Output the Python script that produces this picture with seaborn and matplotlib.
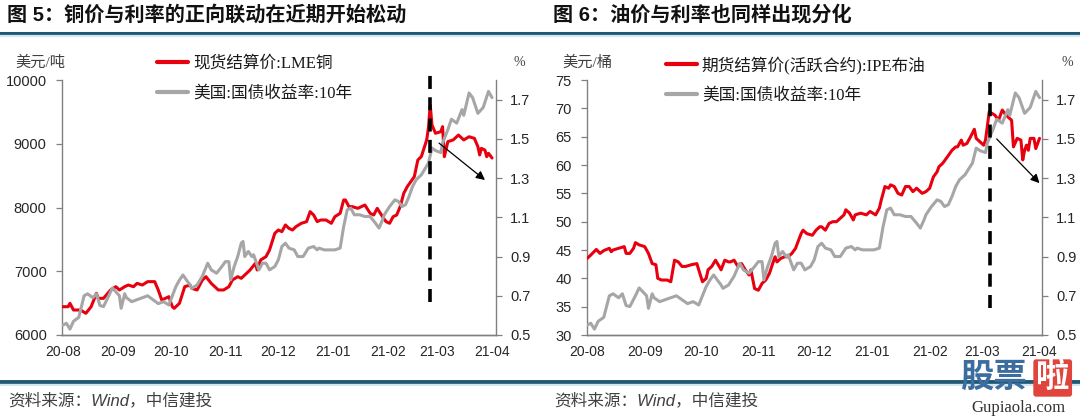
import numpy as np
import pandas as pd
import matplotlib
matplotlib.use("Agg")
import matplotlib.pyplot as plt
import matplotlib.dates as mdates
from matplotlib.lines import Line2D
import seaborn as sns

# ---------------- data ----------------
cu_dates = ['2020-08-01','2020-08-04','2020-08-05','2020-08-07','2020-08-11','2020-08-14','2020-08-17','2020-08-20','2020-08-21','2020-08-24','2020-08-28','2020-08-31',
            '2020-09-02','2020-09-05','2020-09-07','2020-09-10','2020-09-12','2020-09-15','2020-09-18','2020-09-22','2020-09-24','2020-09-26','2020-09-30',
            '2020-10-02','2020-10-03','2020-10-06','2020-10-09','2020-10-12','2020-10-13','2020-10-16','2020-10-19','2020-10-21','2020-10-24','2020-10-28','2020-10-31',
            '2020-11-03','2020-11-05','2020-11-08','2020-11-10','2020-11-13','2020-11-15','2020-11-18','2020-11-19','2020-11-21','2020-11-24','2020-11-26','2020-11-29',
            '2020-12-01','2020-12-03','2020-12-05','2020-12-07','2020-12-09','2020-12-11','2020-12-14','2020-12-17','2020-12-19','2020-12-21','2020-12-23','2020-12-25','2020-12-28','2020-12-31',
            '2021-01-02','2021-01-05','2021-01-07','2021-01-08','2021-01-10','2021-01-12','2021-01-15','2021-01-19','2021-01-22','2021-01-24','2021-01-26','2021-01-29','2021-01-31',
            '2021-02-02','2021-02-04','2021-02-06','2021-02-08','2021-02-10','2021-02-12','2021-02-14','2021-02-16','2021-02-18','2021-02-20','2021-02-23','2021-02-24','2021-02-25','2021-02-26','2021-02-28',
            '2021-03-03','2021-03-04','2021-03-05','2021-03-07','2021-03-10','2021-03-13','2021-03-16','2021-03-19','2021-03-22','2021-03-24','2021-03-25','2021-03-26','2021-03-28','2021-03-29','2021-03-30','2021-04-01']
cu_price = [6444,6444,6497,6392,6392,6340,6444,6654,6575,6575,6706,6758,
            6706,6758,6784,6758,6810,6784,6837,6837,6706,6549,6601,
            6444,6418,6497,6758,6784,6732,6706,6863,6915,6810,6706,6706,
            6758,6863,6915,6889,6967,7020,7124,7020,7177,7229,7333,7595,
            7647,7621,7726,7673,7647,7700,7752,7778,7935,7882,7778,7804,7804,7752,
            7856,7909,8118,8118,8013,8013,7987,8039,7909,7882,7987,7856,7778,
            7752,7856,7882,8013,8222,8327,8405,8484,8745,8800,9060,9250,9608,9294,9164,
            9190,9268,8797,9033,9060,9137,9060,9110,9085,8954,8824,8928,8900,8797,8850,8776]

brent_dates = ['2020-08-01','2020-08-03','2020-08-06','2020-08-08','2020-08-10','2020-08-13','2020-08-14','2020-08-15','2020-08-18','2020-08-21','2020-08-22','2020-08-24','2020-08-26','2020-08-27','2020-08-29',
               '2020-09-01','2020-09-03','2020-09-05','2020-09-07','2020-09-08','2020-09-10','2020-09-13','2020-09-15','2020-09-17','2020-09-19','2020-09-21','2020-09-23','2020-09-26','2020-09-29','2020-09-30',
               '2020-10-02','2020-10-04','2020-10-05','2020-10-07','2020-10-09','2020-10-11','2020-10-12','2020-10-14','2020-10-16','2020-10-17','2020-10-19','2020-10-21','2020-10-23','2020-10-25','2020-10-27','2020-10-28','2020-10-30',
               '2020-11-01','2020-11-03','2020-11-05','2020-11-07','2020-11-09','2020-11-10','2020-11-11','2020-11-13','2020-11-15','2020-11-17','2020-11-19','2020-11-21','2020-11-22','2020-11-24','2020-11-25','2020-11-27','2020-11-30',
               '2020-12-02','2020-12-04','2020-12-05','2020-12-07','2020-12-09','2020-12-11','2020-12-13','2020-12-15','2020-12-17','2020-12-18','2020-12-20','2020-12-22','2020-12-23','2020-12-26','2020-12-29','2020-12-31',
               '2021-01-03','2021-01-05','2021-01-06','2021-01-08','2021-01-10','2021-01-11','2021-01-13','2021-01-15','2021-01-17','2021-01-19','2021-01-21','2021-01-23','2021-01-25','2021-01-28','2021-01-30',
               '2021-02-01','2021-02-03','2021-02-05','2021-02-06','2021-02-08','2021-02-10','2021-02-13','2021-02-15','2021-02-16','2021-02-18','2021-02-19','2021-02-21','2021-02-23','2021-02-25','2021-02-26','2021-02-28',
               '2021-03-02','2021-03-03','2021-03-05','2021-03-08','2021-03-10','2021-03-12','2021-03-14','2021-03-15','2021-03-17','2021-03-18','2021-03-20','2021-03-22','2021-03-23','2021-03-24','2021-03-25','2021-03-26','2021-03-27','2021-03-29','2021-03-30','2021-04-01']
brent_price = [43.5,44.1,45.1,44.4,44.9,45.3,44.7,45.0,45.3,45.6,44.4,44.4,45.3,46.3,45.9,
               45.6,44.4,42.6,42.4,40.0,39.7,39.7,39.4,43.2,42.9,42.1,42.1,42.4,42.6,41.5,
               39.4,40.0,41.5,42.1,43.2,42.1,41.5,43.2,42.9,42.9,43.2,42.1,42.6,41.5,40.6,41.5,38.2,
               37.9,39.1,39.7,40.9,42.9,43.8,42.9,43.5,43.8,43.8,44.4,45.3,46.2,47.9,48.5,47.9,47.6,
               48.5,49.1,49.1,48.5,49.7,50.0,50.0,50.6,51.2,52.1,51.5,50.3,51.2,51.5,51.2,51.8,
               51.2,52.4,53.8,56.2,55.9,56.5,56.2,55.0,54.7,56.2,56.2,55.3,55.9,55.0,55.3,
               55.9,57.9,58.8,59.7,60.3,61.2,62.6,63.2,63.2,64.4,63.5,63.8,65.0,66.3,64.7,64.1,
               63.5,64.4,69.4,68.8,67.9,69.7,68.8,68.5,67.9,63.2,64.7,64.4,60.9,62.6,63.5,62.6,64.7,64.7,62.9,64.7]

ust_dates = ['2020-08-01','2020-08-03','2020-08-05','2020-08-07','2020-08-10','2020-08-13','2020-08-15','2020-08-18','2020-08-20','2020-08-22','2020-08-24','2020-08-27','2020-08-29','2020-08-31',
             '2020-09-02','2020-09-03','2020-09-05','2020-09-06','2020-09-09','2020-09-12','2020-09-15','2020-09-18','2020-09-21','2020-09-24','2020-09-27','2020-09-30',
             '2020-10-02','2020-10-04','2020-10-06','2020-10-08','2020-10-10','2020-10-12','2020-10-13','2020-10-16','2020-10-19','2020-10-22','2020-10-24','2020-10-27','2020-10-30',
             '2020-11-01','2020-11-03','2020-11-04','2020-11-06','2020-11-08','2020-11-10','2020-11-11','2020-11-12','2020-11-14','2020-11-16','2020-11-17','2020-11-20','2020-11-22','2020-11-24','2020-11-26','2020-11-29',
             '2020-12-01','2020-12-03','2020-12-05','2020-12-07','2020-12-10','2020-12-12','2020-12-15','2020-12-18','2020-12-21','2020-12-23','2020-12-24','2020-12-27','2020-12-30',
             '2021-01-02','2021-01-05','2021-01-07','2021-01-09','2021-01-11','2021-01-13','2021-01-16','2021-01-19','2021-01-22','2021-01-25','2021-01-27','2021-01-29','2021-01-30',
             '2021-02-02','2021-02-05','2021-02-07','2021-02-09','2021-02-11','2021-02-13','2021-02-15','2021-02-17','2021-02-20','2021-02-24','2021-02-26','2021-02-28',
             '2021-03-03','2021-03-04','2021-03-07','2021-03-09','2021-03-12','2021-03-15','2021-03-16','2021-03-19','2021-03-21','2021-03-24','2021-03-27','2021-03-30','2021-04-01']
ust_yield = [0.55,0.56,0.53,0.57,0.59,0.70,0.71,0.69,0.71,0.65,0.645,0.70,0.74,0.72,
             0.70,0.636,0.71,0.69,0.67,0.68,0.69,0.70,0.68,0.66,0.67,0.653,
             0.70,0.747,0.78,0.806,0.78,0.755,0.738,0.755,0.80,0.866,0.832,0.815,0.849,
             0.874,0.874,0.781,0.849,0.90,0.968,0.977,0.90,0.926,0.90,0.909,0.832,0.866,0.866,0.832,0.849,
             0.883,0.951,0.968,0.943,0.934,0.90,0.90,0.943,0.951,0.934,0.943,0.934,0.934,
             0.934,0.943,1.053,1.138,1.147,1.113,1.113,1.104,1.104,1.07,1.045,1.087,1.113,
             1.155,1.189,1.181,1.155,1.164,1.206,1.257,1.291,1.317,1.377,1.453,1.44,
             1.43,1.479,1.547,1.60,1.58,1.649,1.62,1.734,1.71,1.63,1.66,1.742,1.71]

left_yticks = [6000, 7000, 8000, 9000, 10000]
right_yticks = [30, 35, 40, 45, 50, 55, 60, 65, 70, 75]
pct_ticks = [0.5, 0.7, 0.9, 1.1, 1.3, 1.5, 1.7]

titles = ["图 5：铜价与利率的正向联动在近期开始松动", "图 6：油价与利率也同样出现分化"]
red_labels = ["现货结算价:LME铜", "期货结算价(活跃合约):IPE布油"]
gray_label = "美国:国债收益率:10年"
units = ["美元/吨", "美元/桶"]
source = "资料来源：Wind，中信建投"

# ---------------- style ----------------
sns.set_theme(style="white")
plt.rcParams['font.family'] = ['Liberation Sans', 'Noto Sans CJK SC']
plt.rcParams['axes.unicode_minus'] = False

W, H = 1080, 418
fig = plt.figure(figsize=(W / 100, H / 100), dpi=100)
fig.patch.set_facecolor("white")

RED = "#e8000f"
GRAY = "#a6a6a6"
SPINE = "#808080"
TXT = "#262626"
SERIF_CJK = ['Liberation Serif', 'Noto Sans CJK SC']


def fx(px):
    return px / W


def fy(py):
    return 1 - py / H


def panel(x0, x1, dates, vals, red_label, ylim, yticks, xlim,
          dash, arrow, legend_x, unit, unit_x, pct_x, title, title_x, src_x):
    ax = fig.add_axes([fx(x0), fy(335), fx(x1 - x0), (335 - 80) / H])
    d = pd.to_datetime(dates)
    sns.lineplot(x=d, y=vals, ax=ax, color=RED, linewidth=2.2, estimator=None, zorder=3)
    red_line = ax.get_lines()[-1]
    ax2 = ax.twinx()
    sns.lineplot(x=pd.to_datetime(ust_dates), y=ust_yield, ax=ax2, color=GRAY,
                 linewidth=2.2, estimator=None, zorder=2)
    gray_line = ax2.get_lines()[-1]

    ax.set_ylim(*ylim)
    ax.set_yticks(yticks)
    ax2.set_ylim(0.5, 1.8)
    ax2.set_yticks(pct_ticks)
    ax2.set_yticklabels([f"{t:.1f}" for t in pct_ticks])
    ax.set_xlim(pd.Timestamp(xlim[0]), pd.Timestamp(xlim[1]))
    ax.xaxis.set_major_locator(mdates.MonthLocator())
    ax.xaxis.set_major_formatter(mdates.DateFormatter('%y-%m'))
    for a in (ax, ax2):
        a.set_xlabel("")
        a.set_ylabel("")
        a.spines['top'].set_visible(False)
        for s in a.spines.values():
            s.set_color(SPINE)
            s.set_linewidth(1.0)
        a.patch.set_alpha(0)
    ax.spines['right'].set_visible(False)
    ax2.spines['left'].set_visible(False)
    ax.tick_params(axis='x', direction='in', length=4, width=0.9, color=SPINE,
                   pad=7, labelsize=10, labelcolor=TXT)
    ax.tick_params(axis='y', direction='out', length=4, width=0.9, color=SPINE,
                   pad=7, labelsize=10.5, labelcolor=TXT, left=True)
    ax2.tick_params(axis='y', direction='out', length=4, width=0.9, color=SPINE,
                    pad=6, labelsize=10.5, labelcolor=TXT, right=True)
    ax.grid(False)
    ax2.grid(False)

    # dashed vertical marker (drawn above both series)
    dd = mdates.date2num(pd.Timestamp(dash[0]))
    ax2.plot([dd, dd], [dash[1], dash[2]], transform=ax.transData, clip_on=False,
             color="black", linewidth=2.6, linestyle=(0, (3.6, 2.3)), zorder=6)
    # arrow
    a0 = (mdates.date2num(pd.Timestamp(arrow[0])), arrow[1])
    a1 = (mdates.date2num(pd.Timestamp(arrow[2])), arrow[3])
    ax2.annotate("", xy=a1, xytext=a0, xycoords=ax.transData, textcoords=ax.transData,
                 arrowprops=dict(arrowstyle='-|>', color='black', lw=0.9,
                                 mutation_scale=13, shrinkA=0, shrinkB=0), zorder=7)
    ax2.set_ylim(0.5, 1.8)

    leg = ax2.legend([red_line, gray_line], [red_label, gray_label],
                     loc='upper left', bbox_to_anchor=(fx(legend_x), fy(56)),
                     bbox_transform=fig.transFigure, frameon=False,
                     prop=dict(family=SERIF_CJK, size=12), handlelength=1.85,
                     handletextpad=0.3, labelspacing=0.82, borderpad=0, borderaxespad=0)
    for ln in leg.get_lines():
        ln.set_linewidth(3.0)
    for t in leg.get_texts():
        t.set_color("#1a1a1a")

    fig.text(fx(unit_x), fy(63), unit, ha='left', va='center', fontsize=11,
             family=SERIF_CJK, color="#404040")
    fig.text(fx(pct_x), fy(63), "%", ha='left', va='center', fontsize=10,
             family=SERIF_CJK, color="#404040")
    fig.text(fx(title_x), fy(15), title, ha='left', va='center', fontsize=14.5,
             fontweight='bold', color="#111111")
    fig.text(fx(src_x), fy(400), source, ha='left', va='center', fontsize=12,
             style='italic', color="#404040")
    return ax, ax2


panel(62, 496, cu_dates, cu_price, red_labels[0], (6000, 10000), left_yticks,
      ('2020-07-31 12:00', '2021-04-03 06:00'),
      ('2021-02-25', 6518, 10188), ('2021-03-02', 9010, '2021-03-28', 8431),
      157, units[0], 15, 514, titles[0], 7, 8)
panel(587, 1042, brent_dates, brent_price, red_labels[1], (30, 75), right_yticks,
      ('2020-08-01', '2021-04-02 08:00'),
      ('2021-03-05 12:00', 34.8, 75.5), ('2021-03-09', 64.6, '2021-04-01', 56.8),
      666, units[1], 562, 1061, titles[1], 553, 554)

# header / footer rules
for y, c, lw in [(33, "#1f5875", 2.2), (35.6, "#d4e6f0", 1.6), (382, "#1f5875", 2.8), (385, "#d4e6f0", 1.6)]:
    fig.add_artist(Line2D([0, 1], [fy(y), fy(y)], transform=fig.transFigure, color=c, linewidth=lw))

# watermark
fig.text(fx(960), fy(378), "股票", ha='left', va='center', fontsize=24, fontweight='bold',
         color="#3d6d9e")
fig.text(fx(1036), fy(378), "啦", ha='left', va='center', fontsize=24, fontweight='bold',
         color="white", bbox=dict(boxstyle="round,pad=0.08", fc="#e0443c", ec="none"))
fig.text(fx(1018), fy(408), "Gupiaola.com", ha='center', va='center', fontsize=12,
         family='Liberation Serif', color="#333333")

fig.savefig("out.png", dpi=100, facecolor="white")
